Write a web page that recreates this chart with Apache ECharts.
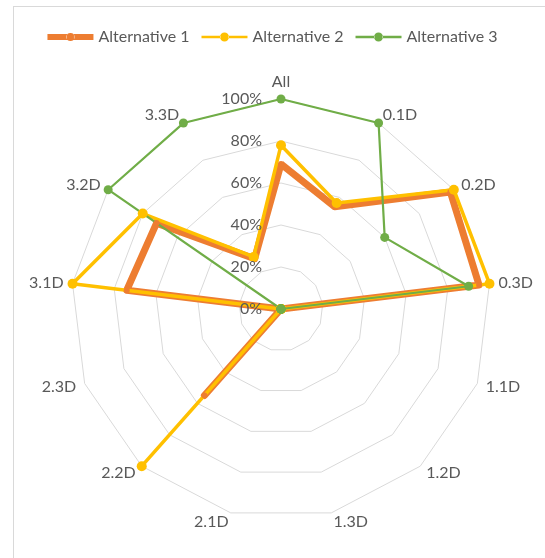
<!DOCTYPE html>
<html>
<head>
<meta charset="utf-8">
<script src="https://cdn.jsdelivr.net/npm/echarts@6/dist/echarts.min.js"></script>
<style>
html,body{margin:0;padding:0;background:#fff;}
#frame{position:absolute;left:13px;top:6px;width:600px;height:600px;border:1px solid #d9d9d9;box-sizing:border-box;}
#chart{position:absolute;left:0;top:0;width:545px;height:558px;}
</style>
</head>
<body>
<div id="frame"></div>
<div id="chart"></div>
<script>
const categories = ['All','0.1D','0.2D','0.3D','1.1D','1.2D','1.3D','2.1D','2.2D','2.3D','3.1D','3.2D','3.3D'];
const seriesNames = ['Alternative 1','Alternative 2','Alternative 3'];
const alt1 = [69, 55, 98, 95, 0, 0, 0, 0, 55, 0, 74, 72, 27];
const alt2 = [78, 57, 100, 100, 0, 0, 0, 0, 100, 0, 100, 80, 28];
const alt3 = [100, 100, 60, 90, 0, 0, 0, 0, 0, 0, 0, 100, 100];
const tickValues = [0, 20, 40, 60, 80, 100];

const colors = ['#ED7D31', '#FFC000', '#70AD47'];
const textColor = '#595959';
const font = 'Lato';
const C = [281, 309];
const R = 210;

// ECharts radar runs counter-clockwise; reorder so categories run clockwise
const order = [0].concat(categories.map((_, i) => i).slice(1).reverse());
const reorder = arr => order.map(i => arr[i]);

const iconThick = 'path://M0,3 L19.5,3 L19.5,9 L0,9 Z M26.5,3 L46,3 L46,9 L26.5,9 Z M19,6 a4,4 0 1,0 8,0 a4,4 0 1,0 -8,0 Z';
const iconThin = 'path://M0,4.8 L19,4.8 L19,7.2 L0,7.2 Z M27,4.8 L46,4.8 L46,7.2 L27,7.2 Z M18.5,6 a4.5,4.5 0 1,0 9,0 a4.5,4.5 0 1,0 -9,0 Z';

const chart = echarts.init(document.getElementById('chart'), null, {renderer: 'canvas'});
chart.setOption({
  animation: false,
  color: colors,
  legend: {
    top: 24,
    left: 'center',
    itemWidth: 46,
    itemHeight: 12,
    itemGap: 12,
    textStyle: {color: textColor, fontFamily: font, fontSize: 16},
    data: [
      {name: seriesNames[0], icon: iconThick, itemStyle: {color: colors[0]}},
      {name: seriesNames[1], icon: iconThin, itemStyle: {color: colors[1]}},
      {name: seriesNames[2], icon: iconThin, itemStyle: {color: colors[2]}}
    ]
  },
  radar: {
    center: C,
    radius: R,
    startAngle: 90,
    shape: 'polygon',
    splitNumber: 5,
    indicator: reorder(categories).map(n => ({name: n, min: 0, max: 100})),
    axisName: {color: textColor, fontFamily: font, fontSize: 16},
    nameGap: 9,
    axisLine: {show: false},
    splitLine: {lineStyle: {color: '#d9d9d9', width: 1}},
    splitArea: {show: false}
  },
  polar: {center: C, radius: R},
  angleAxis: {show: false, startAngle: 90, min: 0, max: 360},
  radiusAxis: {
    min: 0, max: 100, interval: 20, z: 10,
    axisLine: {show: false},
    axisTick: {show: false},
    splitLine: {show: false},
    axisLabel: {
      color: textColor, fontFamily: font, fontSize: 16, margin: 19,
      formatter: v => tickValues.indexOf(v) >= 0 ? v + '%' : ''
    }
  },
  series: [{
    type: 'radar',
    data: [
      {name: seriesNames[0], value: reorder(alt1), symbol: 'circle', symbolSize: 6,
       lineStyle: {color: colors[0], width: 7, join: 'round'}, itemStyle: {color: colors[0]}},
      {name: seriesNames[1], value: reorder(alt2), symbol: 'circle', symbolSize: 10,
       lineStyle: {color: colors[1], width: 3.5, join: 'round'}, itemStyle: {color: colors[1]}},
      {name: seriesNames[2], value: reorder(alt3), symbol: 'circle', symbolSize: 9,
       lineStyle: {color: colors[2], width: 2.2, join: 'round'}, itemStyle: {color: colors[2]}}
    ]
  }]
});
</script>
</body>
</html>
